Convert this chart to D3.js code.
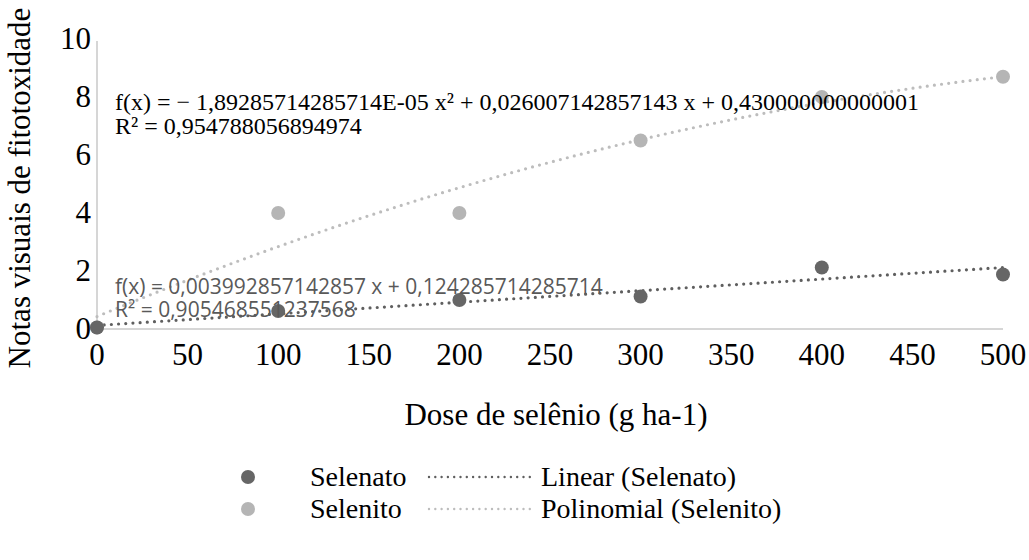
<!DOCTYPE html>
<html>
<head>
  <meta charset="utf-8">
  <script src="https://cdn.jsdelivr.net/npm/d3@7"></script>
  <style>
    body { margin: 0; background: #fff; }
  </style>
</head>
<body>
<div id="chart"></div>
<script>
  // data
  var doses = [0, 100, 200, 300, 400, 500];
  var selenato = [0.05, 0.62, 1.0, 1.12, 2.12, 1.88];
  var selenito = [0.05, 4.0, 4.0, 6.5, 8.0, 8.7];
  var yTicks = [0, 2, 4, 6, 8, 10];
  var xTicks = [0, 50, 100, 150, 200, 250, 300, 350, 400, 450, 500];
  // trend line coefficients shown in the chart labels
  var linCoef = [0.124285714285714, 0.003992857142857];          // c, b
  var polyCoef = [0.430000000000001, 0.026007142857143, -1.89285714285714e-05]; // c, b, a
  var linLabel = ["f(x) = 0,003992857142857 x + 0,124285714285714", "R² = 0,905468551237568"];
  var polyLabel = ["f(x) = − 1,89285714285714E-05 x² + 0,026007142857143 x + 0,430000000000001", "R² = 0,954788056894974"];

  var SERIF = "'Liberation Serif', 'Times New Roman', Times, serif";
  var W = 1029, H = 560;
  var svg = d3.select("#chart").append("svg")
    .attr("width", W).attr("height", H);

  var x = d3.scaleLinear().domain([0, 500]).range([97, 1003]);
  var y = d3.scaleLinear().domain([0, 10]).range([329, 39]);

  var darkPt = "#666666", lightPt = "#b5b5b5";
  var darkLine = "#5f5f5f", lightLine = "#bdbdbd";

  // axes lines
  svg.append("line").attr("x1", x(0)).attr("x2", x(0)).attr("y1", y(10) + 2).attr("y2", y(0))
    .attr("stroke", "#c8c8c8").attr("stroke-width", 1.5);
  svg.append("line").attr("x1", x(0)).attr("x2", x(500)).attr("y1", y(0)).attr("y2", y(0))
    .attr("stroke", "#c8c8c8").attr("stroke-width", 1.5);

  // tick labels
  svg.selectAll(".yt").data(yTicks).enter().append("text")
    .attr("font-family", SERIF)
    .attr("x", 91).attr("y", function(d) { return y(d) + 10; })
    .attr("text-anchor", "end")
    .attr("font-size", 31).attr("fill", "#000")
    .text(function(d) { return d; });
  svg.selectAll(".xt").data(xTicks).enter().append("text")
    .attr("font-family", SERIF)
    .attr("x", function(d) { return x(d); }).attr("y", 365)
    .attr("text-anchor", "middle")
    .attr("font-size", 31).attr("fill", "#000")
    .text(function(d) { return d; });

  // axis titles
  svg.append("text").attr("font-family", SERIF)
    .attr("transform", "translate(30,188) rotate(-90)")
    .attr("text-anchor", "middle").attr("font-size", 31)
    .text("Notas visuais de fitotoxidade");
  svg.append("text").attr("font-family", SERIF)
    .attr("x", 556).attr("y", 425)
    .attr("text-anchor", "middle").attr("font-size", 31)
    .text("Dose de selênio (g ha-1)");

  // trend lines
  var xs = d3.range(0, 501, 5);
  var line = d3.line().x(function(d) { return x(d[0]); }).y(function(d) { return y(d[1]); });
  svg.append("path")
    .datum(xs.map(function(v) { return [v, polyCoef[0] + polyCoef[1] * v + polyCoef[2] * v * v]; }))
    .attr("d", line).attr("fill", "none")
    .attr("stroke", lightLine).attr("stroke-width", 3.2)
    .attr("stroke-linecap", "round").attr("stroke-dasharray", "0 7.2");
  svg.append("path")
    .datum(xs.map(function(v) { return [v, linCoef[0] + linCoef[1] * v]; }))
    .attr("d", line).attr("fill", "none")
    .attr("stroke", darkLine).attr("stroke-width", 3.2)
    .attr("stroke-linecap", "round").attr("stroke-dasharray", "0 7.2");

  // points
  svg.selectAll(".p2").data(doses).enter().append("circle")
    .attr("cx", function(d) { return x(d); })
    .attr("cy", function(d, i) { return y(selenito[i]); })
    .attr("r", 7).attr("fill", lightPt);
  svg.selectAll(".p1").data(doses).enter().append("circle")
    .attr("cx", function(d) { return x(d); })
    .attr("cy", function(d, i) { return y(selenato[i]); })
    .attr("r", 7).attr("fill", darkPt);

  // trend labels
  polyLabel.forEach(function(t, i) {
    svg.append("text").attr("font-family", SERIF)
      .attr("x", 115).attr("y", 110 + i * 24)
      .attr("font-size", 24).attr("fill", "#000").text(t);
  });
  linLabel.forEach(function(t, i) {
    svg.append("text")
      .attr("x", 115).attr("y", 294 + i * 23)
      .attr("font-family", "'Open Sans', sans-serif")
      .attr("font-size", 21).attr("fill", "#595959").text(t);
  });

  // legend
  var legend = [
    {name: "Selenato", col: darkPt, trend: "Linear (Selenato)", lcol: darkLine},
    {name: "Selenito", col: lightPt, trend: "Polinomial (Selenito)", lcol: lightLine}
  ];
  var lg = svg.selectAll(".lg").data(legend).enter().append("g")
    .attr("transform", function(d, i) { return "translate(0," + (477 + i * 32) + ")"; });
  lg.append("circle").attr("cx", 248).attr("cy", 0).attr("r", 7)
    .attr("fill", function(d) { return d.col; });
  lg.append("text").attr("font-family", SERIF).attr("x", 310).attr("y", 9)
    .attr("font-size", 28).text(function(d) { return d.name; });
  lg.append("line").attr("x1", 429).attr("x2", 530).attr("y1", 0).attr("y2", 0)
    .attr("stroke", function(d) { return d.lcol; }).attr("stroke-width", 2.4)
    .attr("stroke-linecap", "round").attr("stroke-dasharray", "0 6.3");
  lg.append("text").attr("font-family", SERIF).attr("x", 541).attr("y", 9)
    .attr("font-size", 28).text(function(d) { return d.trend; });
</script>
</body>
</html>
